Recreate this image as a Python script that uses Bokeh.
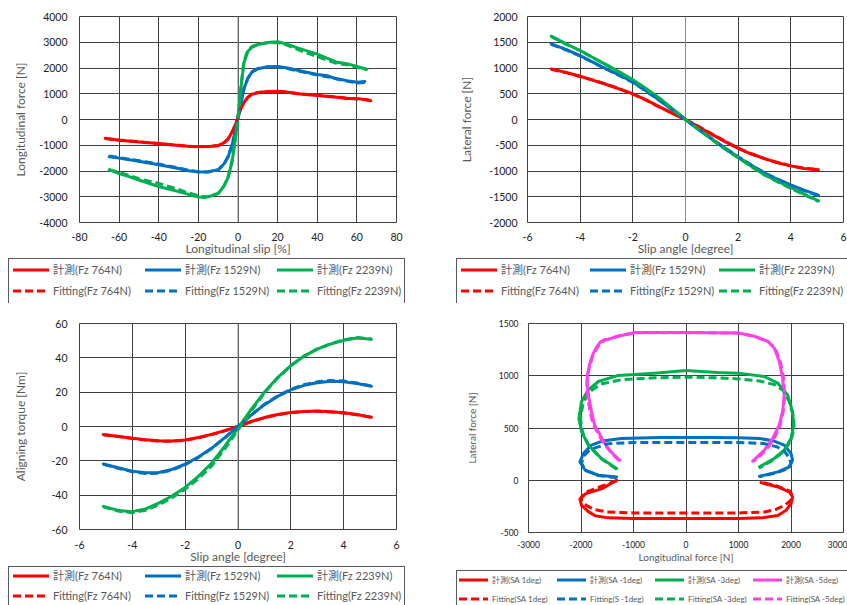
from bokeh.plotting import figure
from bokeh.models import Range1d, FixedTicker, Span, Div
from bokeh.layouts import row, column
from bokeh.embed import file_html
from bokeh.resources import INLINE

# ---------------- data ----------------
# Panel 1: longitudinal force vs longitudinal slip
SLIP_764 = [-67, -60, -50, -40, -30, -25, -20, -15, -10, -7, -5, -3, -1.5, 0, 1.5, 3, 5, 7, 10, 15, 20, 25, 30, 40, 50, 55, 60, 65, 67]
FX_764_MEAS = [-730, -810, -870, -930, -1010, -1040, -1050, -1050, -1020, -900, -760, -490, -240, 90, 440, 660, 860, 980, 1040, 1090, 1100, 1060, 1000, 930, 860, 820, 820, 760, 730]
FX_764_FIT = [-740, -800, -860, -940, -1000, -1040, -1060, -1040, -1010, -910, -750, -500, -230, 80, 450, 650, 870, 980, 1050, 1080, 1090, 1070, 1010, 940, 870, 830, 800, 770, 740]
SLIP_1529 = [-65, -60, -50, -40, -30, -25, -20, -15, -10, -7, -5, -3, -1.5, 0, 1.5, 3, 5, 7, 10, 15, 20, 25, 30, 40, 45, 50, 55, 60, 64]
FX_1529_MEAS = [-1450, -1500, -1620, -1760, -1900, -1990, -2040, -2030, -1950, -1720, -1450, -1000, -500, 80, 650, 1200, 1600, 1840, 1970, 2050, 2060, 2000, 1910, 1750, 1700, 1580, 1510, 1450, 1480]
FX_1529_FIT = [-1420, -1480, -1600, -1730, -1880, -1970, -2030, -2040, -1960, -1730, -1430, -990, -490, 70, 640, 1190, 1610, 1850, 1980, 2040, 2040, 1980, 1890, 1730, 1660, 1570, 1490, 1420, 1440]
SLIP_2239 = [-65, -60, -55, -50, -40, -30, -25, -20, -17, -15, -10, -7, -5, -3, -1.5, 0, 1.5, 3, 5, 7, 10, 15, 20, 25, 30, 40, 50, 55, 60, 65]
FX_2239_MEAS = [-1950, -2100, -2220, -2350, -2600, -2800, -2910, -3010, -3030, -3000, -2880, -2580, -2250, -1650, -850, 90, 1250, 2200, 2650, 2800, 2910, 2990, 3020, 2920, 2780, 2540, 2220, 2170, 2060, 1950]
FX_2239_FIT = [-1950, -2050, -2170, -2300, -2480, -2720, -2850, -2960, -3000, -2990, -2870, -2570, -2230, -1600, -800, 60, 1300, 2280, 2700, 2830, 2920, 2980, 2990, 2880, 2720, 2440, 2170, 2130, 2030, 1930]

# Panel 2 and 3: lateral force / aligning torque vs slip angle
SA = [-5.1, -4.5, -4, -3.5, -3, -2.5, -2, -1.5, -1, -0.5, 0, 0.5, 1, 1.5, 2, 2.5, 3, 3.5, 4, 4.5, 5.05]
FY_764_MEAS = [980, 910, 840, 760, 680, 590, 500, 380, 250, 120, 0, -140, -290, -430, -560, -670, -760, -840, -900, -950, -975]
FY_764_FIT = [975, 905, 835, 765, 685, 595, 495, 375, 245, 120, 0, -135, -280, -420, -555, -665, -760, -835, -900, -945, -970]
FY_1529_MEAS = [1470, 1350, 1240, 1110, 980, 860, 730, 560, 380, 190, 0, -190, -380, -560, -730, -890, -1040, -1160, -1270, -1370, -1470]
FY_1529_FIT = [1460, 1345, 1230, 1105, 975, 850, 720, 555, 375, 190, 0, -190, -375, -555, -725, -885, -1035, -1165, -1280, -1380, -1480]
FY_2239_MEAS = [1620, 1460, 1340, 1200, 1060, 920, 770, 600, 420, 210, 0, -200, -380, -570, -740, -910, -1070, -1200, -1320, -1450, -1580]
FY_2239_FIT = [1610, 1455, 1335, 1195, 1055, 915, 765, 595, 415, 205, 0, -195, -385, -575, -745, -915, -1075, -1210, -1335, -1460, -1590]

MZ_764_MEAS = [-4.6, -5.8, -6.8, -7.7, -8.3, -8.4, -7.8, -6.4, -4.6, -2.4, 0, 2.9, 5.2, 7.0, 8.2, 8.8, 9.0, 8.6, 8.0, 7.0, 5.4]
MZ_764_FIT = [-4.8, -5.9, -7.0, -7.9, -8.5, -8.6, -8.0, -6.6, -4.7, -2.5, 0, 2.8, 5.1, 6.9, 8.1, 8.7, 8.9, 8.5, 7.8, 6.8, 5.3]
MZ_1529_MEAS = [-21.8, -24.2, -26.0, -27.0, -26.8, -25.0, -22.0, -17.8, -12.7, -6.5, 0, 6.6, 12.7, 17.5, 21.3, 24.0, 25.5, 26.3, 26.0, 25.0, 23.5]
MZ_1529_FIT = [-22.0, -24.5, -26.4, -27.4, -27.2, -25.4, -22.3, -18.0, -12.8, -6.6, 0, 6.7, 12.9, 17.8, 21.6, 24.4, 26.0, 26.8, 26.5, 25.3, 23.6]
MZ_2239_MEAS = [-46.5, -49.0, -49.6, -48.0, -44.6, -40.5, -35.5, -29.0, -21.4, -11.5, -1.0, 10.0, 20.0, 28.5, 35.5, 41.0, 45.1, 48.0, 50.2, 51.5, 50.8]
MZ_2239_FIT = [-46.8, -49.4, -50.2, -48.8, -45.6, -41.5, -36.5, -30.5, -23.0, -13.0, -2.0, 9.0, 19.5, 28.3, 35.4, 41.0, 45.2, 48.2, 50.4, 51.8, 51.0]

# Panel 4: lateral force vs longitudinal force (combined slip)
FX_SA1_MEAS = [-1320, -1600, -1920, -2020, -1990, -1860, -1730, -1480, -1000, 0, 1000, 1430, 1750, 1900, 2000, 2030, 1970, 1750, 1430]
FY_SA1_MEAS = [0, -80, -130, -180, -240, -300, -340, -360, -365, -365, -365, -360, -337, -290, -225, -160, -113, -64, -23]
FX_SA1_FIT = [-1320, -1620, -1880, -1990, -1990, -1900, -1750, -1500, -1000, 0, 1000, 1500, 1700, 1880, 1990, 2030, 1980, 1760, 1430]
FY_SA1_FIT = [-5, -60, -110, -160, -200, -240, -280, -303, -313, -313, -313, -303, -280, -240, -195, -150, -105, -60, -15]
FX_SAM1_MEAS = [-1320, -1670, -1920, -2020, -1955, -1800, -1600, -1230, -500, 0, 500, 1000, 1400, 1680, 1870, 2000, 2030, 1970, 1750, 1400]
FY_SAM1_MEAS = [32, 48, 96, 176, 256, 337, 375, 400, 408, 410, 408, 407, 400, 375, 337, 256, 192, 128, 80, 38]
FX_SAM1_FIT = [-1320, -1660, -1900, -1990, -1950, -1850, -1730, -1480, -1000, 0, 1000, 1480, 1730, 1870, 1960, 2000, 1940, 1750, 1400]
FY_SAM1_FIT = [25, 45, 90, 160, 230, 280, 310, 350, 362, 362, 362, 352, 320, 280, 220, 160, 110, 75, 35]
FX_SAM3_MEAS = [-1320, -1610, -1860, -1990, -2040, -1990, -1860, -1670, -1290, -600, 0, 600, 1000, 1490, 1750, 1935, 2030, 2050, 2000, 1870, 1680, 1400]
FY_SAM3_MEAS = [112, 208, 337, 465, 592, 753, 865, 945, 1003, 1025, 1050, 1030, 1025, 993, 929, 817, 657, 529, 400, 288, 208, 128]
FX_SAM3_FIT = [-1320, -1600, -1850, -1970, -2010, -1960, -1830, -1620, -1230, -600, 0, 600, 1000, 1400, 1680, 1850, 1960, 2040, 2060, 2000, 1870, 1680, 1390]
FY_SAM3_FIT = [105, 200, 330, 460, 590, 740, 850, 920, 962, 980, 987, 980, 970, 950, 915, 860, 760, 620, 500, 380, 280, 200, 115]
FX_SAM5_MEAS = [-1260, -1360, -1480, -1560, -1670, -1740, -1800, -1850, -1880, -1880, -1840, -1780, -1720, -1640, -1560, -1480, -1290, -975, 0, 1000, 1300, 1556, 1681, 1776, 1840, 1871, 1840, 1776, 1651, 1492, 1271]
FY_SAM5_MEAS = [192, 235, 304, 365, 465, 526, 657, 790, 900, 1000, 1100, 1200, 1260, 1320, 1345, 1350, 1378, 1414, 1414, 1410, 1378, 1330, 1266, 1138, 977, 817, 657, 529, 400, 288, 183]
FX_SAM5_FIT = [-1270, -1380, -1500, -1590, -1700, -1770, -1830, -1870, -1890, -1880, -1830, -1770, -1700, -1620, -1550, -1470, -1290, -975, 0, 1000, 1310, 1570, 1700, 1800, 1860, 1880, 1850, 1790, 1670, 1510, 1290]
FY_SAM5_FIT = [185, 240, 310, 370, 470, 535, 660, 790, 900, 1000, 1100, 1200, 1262, 1318, 1340, 1350, 1380, 1412, 1412, 1408, 1376, 1325, 1260, 1130, 970, 810, 650, 520, 390, 280, 180]

# ticks and labels
X1_TICKS = [-80, -60, -40, -20, 0, 20, 40, 60, 80]
Y1_TICKS = [-4000, -3000, -2000, -1000, 0, 1000, 2000, 3000, 4000]
X2_TICKS = [-6, -4, -2, 0, 2, 4, 6]
Y2_TICKS = [-2000, -1500, -1000, -500, 0, 500, 1000, 1500, 2000]
Y3_TICKS = [-60, -40, -20, 0, 20, 40, 60]
X4_TICKS = [-3000, -2000, -1000, 0, 1000, 2000, 3000]
Y4_TICKS = [-500, 0, 500, 1000, 1500]

FZ_LABELS = ["計測(Fz 764N)", "計測(Fz 1529N)", "計測(Fz 2239N)",
             "Fitting(Fz 764N)", "Fitting(Fz 1529N)", "Fitting(Fz 2239N)"]
SA_LABELS = ["計測(SA 1deg)", "計測(SA -1deg)", "計測(SA -3deg)", "計測(SA -5deg)",
             "Fitting(SA 1deg)", "Fitting(S -1deg)", "Fitting(SA -3deg)", "Fitting(SA -5deg)"]

# ---------------- style ----------------
FONT = "Lato"
CSS_FONT = "Lato, 'Noto Sans CJK JP', sans-serif"
RED, BLUE, GREEN, MAG = "#FF0000", "#0070C0", "#00B050", "#FF40E8"
GRID = "#404040"
DASH = "8 4"


def make_panel(width, height, xr, yr, xticks, yticks, xlabel, ylabel, borders,
               tick_fs, label_fs, ytick_sd, ylabel_sd, xtick_sd, xlabel_sd, zero_axis=True):
    p = figure(width=width, height=height, x_range=Range1d(*xr), y_range=Range1d(*yr),
               output_backend="svg", toolbar_location=None,
               min_border_left=borders[0], min_border_right=borders[1],
               min_border_top=borders[2], min_border_bottom=borders[3])
    p.outline_line_color = GRID
    p.outline_line_width = 1
    p.background_fill_color = "white"
    p.border_fill_color = "white"
    p.xaxis.ticker = FixedTicker(ticks=xticks)
    p.yaxis.ticker = FixedTicker(ticks=yticks)
    p.xaxis.major_label_overrides = {t: str(t) for t in xticks}
    p.yaxis.major_label_overrides = {t: str(t) for t in yticks}
    for ax in (p.xaxis[0], p.yaxis[0]):
        ax.axis_line_color = None
        ax.major_tick_line_color = None
        ax.minor_tick_line_color = None
        ax.major_tick_out = 0
        ax.major_tick_in = 0
        ax.major_label_text_font = FONT
        ax.major_label_text_font_size = f"{tick_fs}px"
        ax.major_label_text_color = "#222222"
        ax.axis_label_text_font = FONT
        ax.axis_label_text_font_size = f"{label_fs}px"
        ax.axis_label_text_font_style = "normal"
        ax.axis_label_text_color = "#595959"
    p.xaxis.axis_label = xlabel
    p.yaxis.axis_label = ylabel
    p.yaxis.major_label_standoff = ytick_sd
    p.yaxis.axis_label_standoff = ylabel_sd
    p.xaxis.major_label_standoff = xtick_sd
    p.xaxis.axis_label_standoff = xlabel_sd
    p.xgrid.grid_line_color = GRID
    p.ygrid.grid_line_color = GRID
    p.xgrid.grid_line_width = 1
    p.ygrid.grid_line_width = 1
    if zero_axis:
        p.add_layout(Span(location=0, dimension="height", line_color="#8c8c8c",
                          line_width=1, level="underlay"))
    return p


def draw_set(p, xs, ys, colors):
    for x, y, c in zip(xs[0], ys[0], colors):
        p.line(x, y, line_color=c, line_width=3, line_join="round", line_cap="round")
    for x, y, c in zip(xs[1], ys[1], colors):
        p.line(x, y, line_color=c, line_width=3, line_join="round", line_dash=DASH)


def legend_div(width, height, colors, labels, box_left, box_w, pad, pitch, rows_y,
               glyph_w, fs, right_border=True):
    n = len(colors)
    parts = [f'<div style="position:relative;width:{width}px;height:{height}px;'
             f'overflow:hidden;background:white;font-family:{CSS_FONT};">']
    border = "1px solid #595959"
    parts.append(f'<div style="position:absolute;left:{box_left}px;top:0px;width:{box_w}px;'
                 f'height:{height + 2}px;box-sizing:border-box;border:{border};'
                 f'{"" if right_border else "border-right:none;"}"></div>')
    for i, lab in enumerate(labels):
        r, c = divmod(i, n)
        col = colors[c]
        x = box_left + pad + c * pitch
        y = rows_y[r]
        dash = f' stroke-dasharray="{DASH}"' if r == 1 else ""
        parts.append(f'<svg style="position:absolute;left:{x}px;top:{y - 4}px;" width="{glyph_w}" '
                     f'height="8"><line x1="0" y1="4" x2="{glyph_w}" y2="4" stroke="{col}" '
                     f'stroke-width="3"{dash}/></svg>')
        parts.append(f'<div style="position:absolute;left:{x + glyph_w + 4}px;top:{y - 8}px;'
                     f'height:16px;line-height:16px;font-size:{fs}px;color:#595959;'
                     f'white-space:nowrap;">{lab}</div>')
    parts.append('</div>')
    return Div(text="".join(parts), width=width, height=height, margin=0)


# ---------------- panel 1 ----------------
p1 = make_panel(420, 258, (-80, 80), (-4000, 4000), X1_TICKS, Y1_TICKS,
                "Longitudinal slip [%]", "Longitudinal force [N]", (79, 24, 16, 35),
                10.5, 12, 12, 8, 10, -3)
draw_set(p1,
         [[SLIP_764, SLIP_1529, SLIP_2239], [SLIP_764, SLIP_1529, SLIP_2239]],
         [[FX_764_MEAS, FX_1529_MEAS, FX_2239_MEAS], [FX_764_FIT, FX_1529_FIT, FX_2239_FIT]],
         [RED, BLUE, GREEN])
d1 = legend_div(420, 45, [RED, BLUE, GREEN], FZ_LABELS, 8, 397, 5, 132, [12, 33], 36, 11)

# ---------------- panel 2 ----------------
p2 = make_panel(427, 258, (-6, 6), (-2000, 2000), X2_TICKS, Y2_TICKS,
                "Slip angle [degree]", "Lateral force [N]", (107, 4, 16, 35),
                10.5, 12, 10, 12, 10, -3)
draw_set(p2,
         [[SA, SA, SA], [SA, SA, SA]],
         [[FY_764_MEAS, FY_1529_MEAS, FY_2239_MEAS], [FY_764_FIT, FY_1529_FIT, FY_2239_FIT]],
         [RED, BLUE, GREEN])
d2 = legend_div(427, 45, [RED, BLUE, GREEN], FZ_LABELS, 36, 391, 5, 129, [12, 33], 36, 11,
                right_border=False)

# ---------------- panel 3 ----------------
p3 = make_panel(420, 263, (-6, 6), (-60, 60), X2_TICKS, Y3_TICKS,
                "Slip angle [degree]", "Aligning torque [Nm]", (79, 24, 20, 33),
                10.5, 12, 12, 20, 11, -3)
draw_set(p3,
         [[SA, SA, SA], [SA, SA, SA]],
         [[MZ_764_MEAS, MZ_1529_MEAS, MZ_2239_MEAS], [MZ_764_FIT, MZ_1529_FIT, MZ_2239_FIT]],
         [RED, BLUE, GREEN])
d3 = legend_div(420, 39, [RED, BLUE, GREEN], FZ_LABELS, 8, 397, 5, 132, [10, 30], 36, 11)

# ---------------- panel 4 ----------------
p4 = make_panel(427, 267, (-3000, 3000), (-500, 1500), X4_TICKS, Y4_TICKS,
                "Longitudinal force [N]", "Lateral force [N]", (108, 4, 20, 38),
                8.5, 10, 10, 18, 8, 0, zero_axis=False)
draw_set(p4,
         [[FX_SA1_MEAS, FX_SAM1_MEAS, FX_SAM3_MEAS, FX_SAM5_MEAS],
          [FX_SA1_FIT, FX_SAM1_FIT, FX_SAM3_FIT, FX_SAM5_FIT]],
         [[FY_SA1_MEAS, FY_SAM1_MEAS, FY_SAM3_MEAS, FY_SAM5_MEAS],
          [FY_SA1_FIT, FY_SAM1_FIT, FY_SAM3_FIT, FY_SAM5_FIT]],
         [RED, BLUE, GREEN, MAG])
d4 = legend_div(427, 35, [RED, BLUE, GREEN, MAG], SA_LABELS, 36, 391, 3, 98, [10, 29], 29, 8,
                right_border=False)

layout = column(row(column(p1, d1), column(p2, d2)), row(column(p3, d3), column(p4, d4)))
open("out.html", "w").write(file_html(layout, INLINE))
